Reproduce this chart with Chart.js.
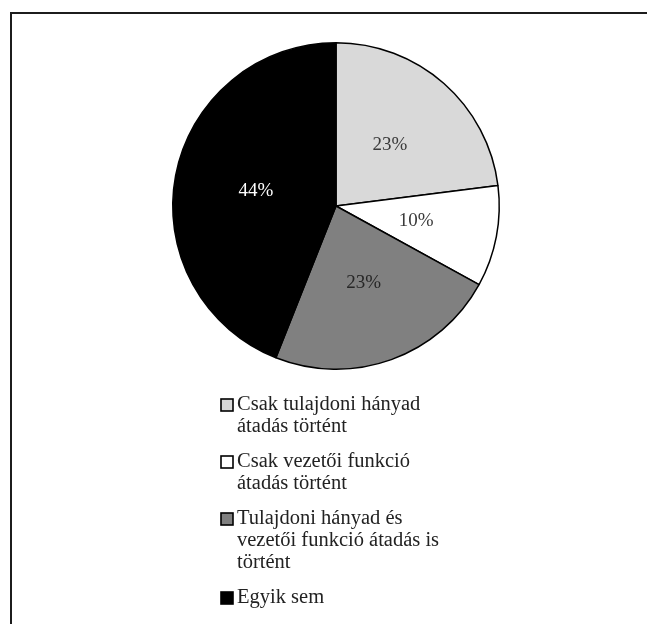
<!DOCTYPE html>
<html>
<head>
<meta charset="utf-8">
<script src="https://cdn.jsdelivr.net/npm/chart.js@4.4.1/dist/chart.umd.min.js"></script>
<style>
  html, body { margin: 0; padding: 0; background: #fff; }
  #wrap { position: relative; width: 647px; height: 624px; }
  #frame {
    position: absolute; left: 10px; top: 12px; right: 0; bottom: 0;
    border-top: 2px solid #1c1c1c; border-left: 2px solid #1c1c1c;
    pointer-events: none;
  }
  canvas { position: absolute; left: 0; top: 0; }
</style>
</head>
<body>
<div id="wrap">
  <canvas id="myChart" width="647" height="624"></canvas>
  <div id="frame"></div>
</div>
<script>
// categories (each one split into the lines shown in the legend)
const categories = [
  ['Csak tulajdoni hányad', 'átadás történt'],
  ['Csak vezetői funkció', 'átadás történt'],
  ['Tulajdoni hányad és', 'vezetői funkció átadás is', 'történt'],
  ['Egyik sem']
];
const shares = [23, 10, 23, 44];
const sliceColors = ['#d9d9d9', '#ffffff', '#808080', '#000000'];
const labelColors = ['#3a3a3a', '#3a3a3a', '#262626', '#ffffff'];

const SERIF = '"Liberation Serif", "Times New Roman", serif';

// percentage text in the middle of each slice
const sliceLabels = {
  id: 'sliceLabels',
  afterDatasetsDraw(chart) {
    const {ctx} = chart;
    const meta = chart.getDatasetMeta(0);
    ctx.save();
    ctx.font = '19px ' + SERIF;
    ctx.textAlign = 'center';
    ctx.textBaseline = 'middle';
    meta.data.forEach((arc, i) => {
      const p = arc.getCenterPoint();
      ctx.fillStyle = labelColors[i];
      ctx.fillText(shares[i] + '%', p.x, p.y);
    });
    ctx.restore();
  }
};

// legend below the pie, with wrapped lines
const wrappedLegend = {
  id: 'wrappedLegend',
  afterDraw(chart) {
    const {ctx} = chart;
    const boxX = 221, textX = 237, lineH = 22, gap = 13;
    let y = 405;
    ctx.save();
    ctx.font = '20.5px ' + SERIF;
    ctx.textBaseline = 'middle';
    ctx.textAlign = 'left';
    categories.forEach((lines, i) => {
      ctx.fillStyle = sliceColors[i];
      ctx.fillRect(boxX, y - 6, 12, 12);
      ctx.strokeStyle = '#000';
      ctx.lineWidth = 1.6;
      ctx.strokeRect(boxX, y - 6, 12, 12);
      ctx.fillStyle = '#222';
      lines.forEach((line, j) => {
        ctx.fillText(line, textX, y + j * lineH);
      });
      y += lines.length * lineH + gap;
    });
    ctx.restore();
  }
};

const data = {
  labels: categories.map(l => l.join(' ')),
  datasets: [{
    data: shares,
    backgroundColor: sliceColors,
    borderColor: '#000',
    borderWidth: 1.5
  }]
};

const config = {
  type: 'pie',
  data,
  options: {
    responsive: false,
    animation: false,
    layout: { padding: { top: 42, bottom: 254, left: 25, right: 0 } },
    plugins: {
      legend: { display: false },
      tooltip: { enabled: false }
    }
  },
  plugins: [sliceLabels, wrappedLegend]
};

const myChart = new Chart(document.getElementById('myChart'), config);
</script>
</body>
</html>
